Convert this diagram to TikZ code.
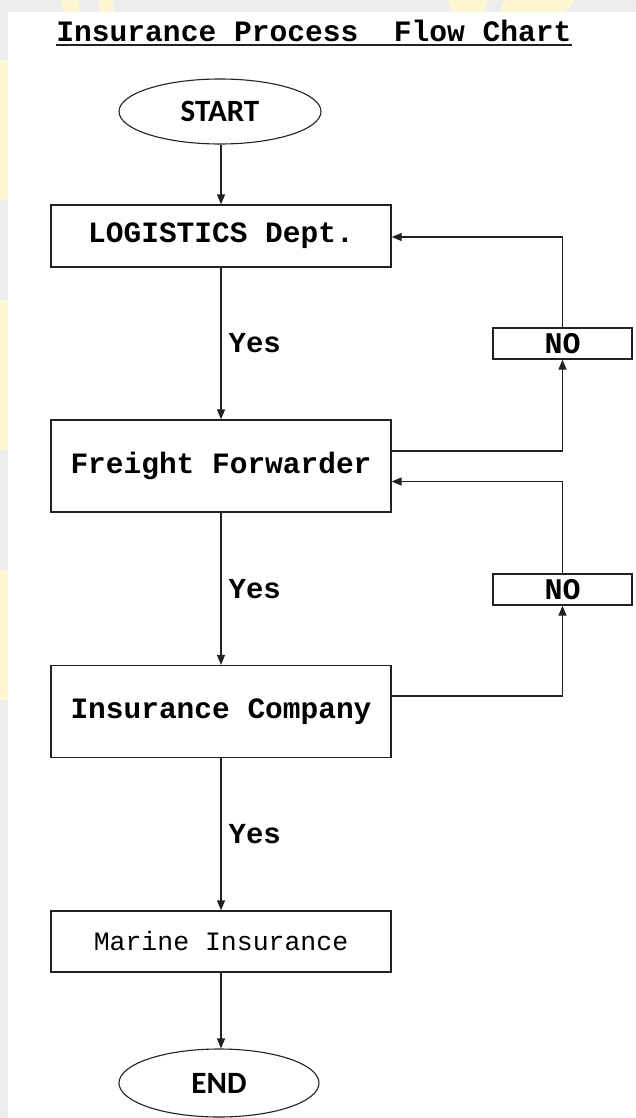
\documentclass[tikz,border=0pt]{standalone}
\usepackage{fontspec}
\setmonofont{Liberation Mono}
\setsansfont{Carlito}
\usetikzlibrary{arrows.meta,shapes.geometric}
\definecolor{pagegray}{HTML}{ECEDEC}
\definecolor{markyellow}{HTML}{FFF7D2}
\definecolor{ink}{HTML}{222222}
\begin{document}
\begin{tikzpicture}[x=1pt,y=-1pt,
  every node/.style={text=black},
  flow/.style={draw=ink,line width=1.3pt,-{Triangle[length=10pt,width=8pt]}},
  stepbox/.style={draw=ink,line width=1.3pt,rectangle,minimum width=340pt,inner sep=0pt,
    font=\ttfamily\bfseries\fontsize{29.5}{32}\selectfont},
  terminal/.style={draw=ink,line width=1.1pt,ellipse,inner sep=0pt,
    font=\sffamily\bfseries\fontsize{31}{34}\selectfont},
  nobox/.style={draw=ink,line width=1.3pt,rectangle,minimum width=139pt,minimum height=31pt,inner sep=0pt,
    font=\ttfamily\bfseries\fontsize{30}{32}\selectfont},
  yeslabel/.style={anchor=west,inner sep=0pt,font=\ttfamily\bfseries\fontsize{29}{32}\selectfont}]
% page background with a faint watermark in the margins
\fill[pagegray] (0,0) rectangle (636,1118);
\fill[markyellow] (60,0) -- (78,0) -- (80,12) -- (64,12) -- cycle;
\fill[markyellow] (98,0) -- (112,0) -- (114,12) -- (100,12) -- cycle;
\fill[markyellow] (448,0) -- (488,0) -- (484,12) -- (452,12) -- cycle;
\fill[markyellow] (505,0) -- (575,0) -- (565,12) -- (500,12) -- cycle;
\fill[markyellow] (0,60) rectangle (8,200);
\fill[markyellow] (0,300) rectangle (8,450);
\fill[markyellow] (0,570) rectangle (8,700);
\fill[white] (8,12) rectangle (636,1118);
\useasboundingbox (0,0) rectangle (636,1118);

% title
\node[inner sep=0pt,anchor=base,font=\ttfamily\bfseries\fontsize{29.6}{32}\selectfont] (title) at (314,42)
  {Insurance Process\ \ Flow Chart};
\draw[ink,line width=1.2pt] ([yshift=-3pt]title.base west) -- ([yshift=-3pt]title.base east);

% process nodes
\node[terminal,minimum width=202pt,minimum height=65pt] (start) at (220,111.5) {START};
\node[stepbox,minimum height=62pt] (log) at (221,236) {LOGISTICS Dept.};
\node[stepbox,minimum height=92pt] (ff) at (221,466) {Freight Forwarder};
\node[stepbox,minimum height=92pt] (ic) at (221,711.5) {Insurance Company};
\node[stepbox,minimum height=61pt,font=\ttfamily\fontsize{26.5}{30}\selectfont] (mar) at (221,941.5) {Marine Insurance};
\node[terminal,minimum width=200pt,minimum height=68pt] (end) at (219,1083) {END};

\node[nobox] (no1) at (562.5,343.5) {NO};
\node[nobox] (no2) at (562.5,589.5) {NO};

% main flow
\draw[flow] (log.north |- start.south) -- (log.north);
\draw[flow] (log) -- node[yeslabel,pos=0.5,xshift=7pt] (y1) {Yes} (ff);
\draw[flow] (ff) -- node[yeslabel,pos=0.5,xshift=7pt] (y2) {Yes} (ic);
\draw[flow] (ic) -- node[yeslabel,pos=0.5,xshift=7pt] (y3) {Yes} (mar);
\draw[flow] (mar) -- (mar.south |- end.north);

% rejection loops
\draw[flow] ([yshift=15pt]ff.east) -| (no1.south);
\draw[flow] (no1.north) |- ([yshift=-1pt]log.east);
\draw[flow] ([yshift=15.5pt]ic.east) -| (no2.south);
\draw[flow] (no2.north) |- ([yshift=-15.5pt]ff.east);
\end{tikzpicture}
\end{document}
